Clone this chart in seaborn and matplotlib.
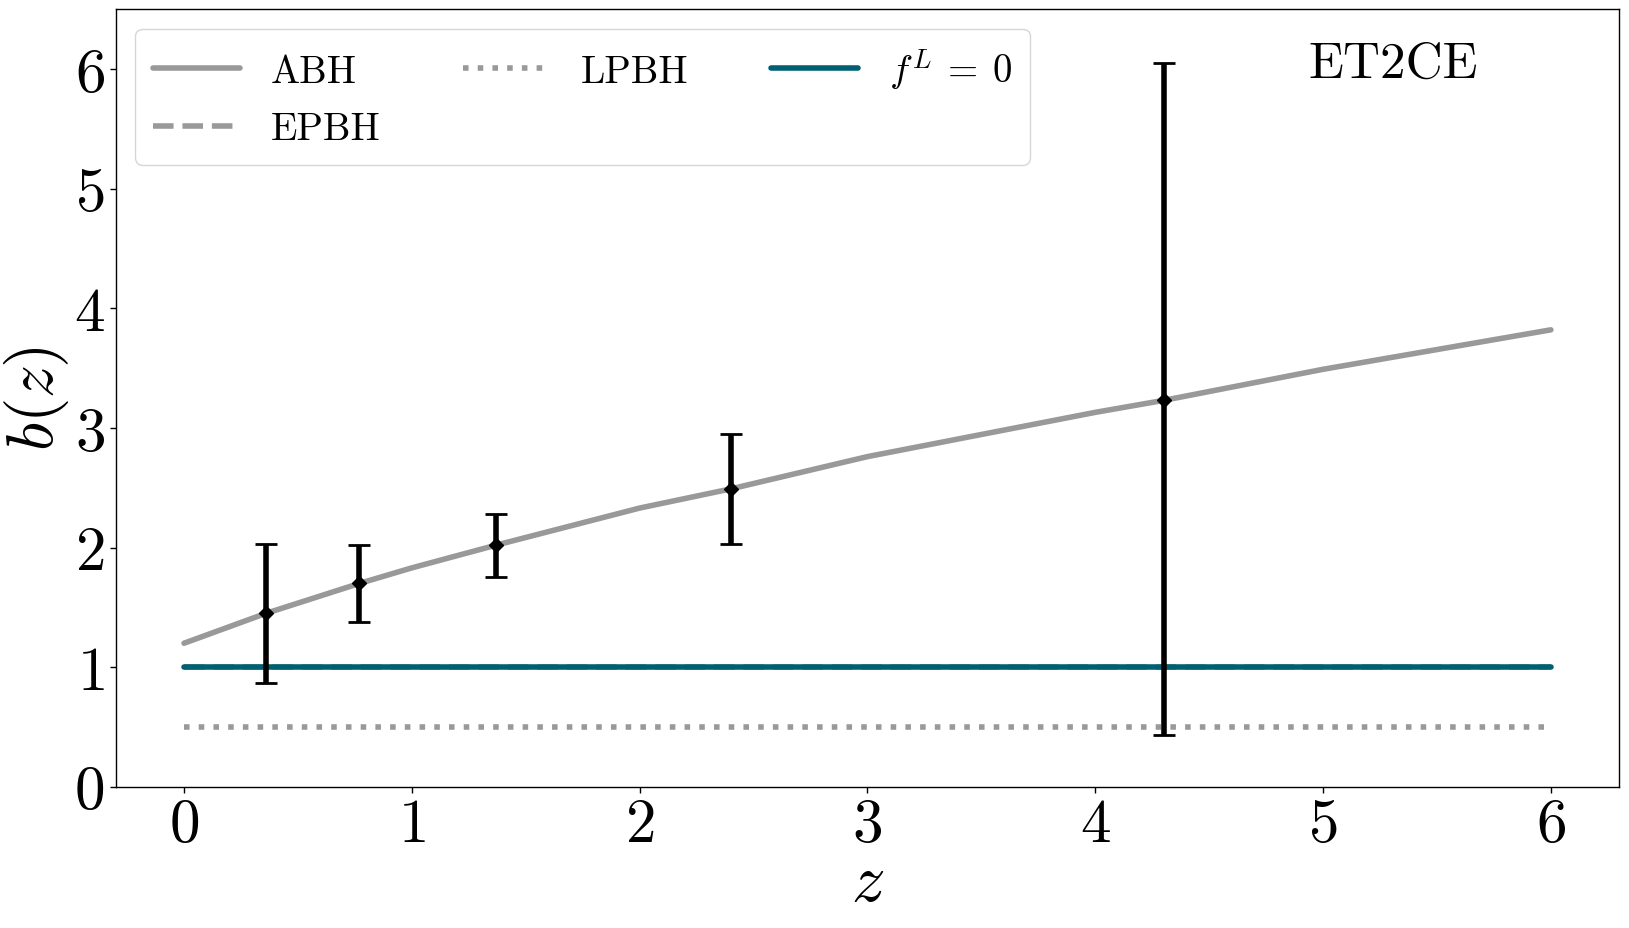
import matplotlib.pyplot as plt
import numpy as np
import pandas as pd
import seaborn as sns

# ABH bias curve
z_abh = [0.0, 0.36, 0.77, 1.0, 1.37, 2.0, 2.4, 3.0, 4.0, 4.3, 5.0, 6.0]
b_abh = [1.20, 1.45, 1.70, 1.83, 2.02, 2.33, 2.49, 2.76, 3.13, 3.23, 3.49, 3.82]

# flat models
z_flat = [0.0, 6.0]
b_epbh = [1.0, 1.0]
b_lpbh = [0.5, 0.5]
b_f0 = [1.0, 1.0]

# ET2CE binned measurements
z_bins = [0.36, 0.77, 1.37, 2.40, 4.30]
b_bins = [1.45, 1.70, 2.02, 2.49, 3.23]
b_lo = [0.87, 1.38, 1.75, 2.03, 0.43]
b_hi = [2.03, 2.02, 2.28, 2.95, 6.05]

sns.set_style("ticks")
plt.rcParams.update({
    'font.family': 'cmr10',
    'mathtext.fontset': 'cm',
    'axes.formatter.use_mathtext': True,
    'axes.unicode_minus': False,
    'text.color': 'black',
    'axes.labelcolor': 'black',
    'xtick.color': 'black',
    'ytick.color': 'black',
    'axes.edgecolor': 'black',
})

gray = '#999999'
teal = '#005f73'

fig, ax = plt.subplots(figsize=(16.29, 9.29), dpi=100)
fig.subplots_adjust(left=0.071, right=0.994, top=0.989, bottom=0.152)

abh = pd.DataFrame({"z": z_abh, "b": b_abh})
flat = pd.DataFrame({"z": z_flat, "epbh": b_epbh, "lpbh": b_lpbh, "f0": b_f0})

sns.lineplot(x="z", y="b", data=abh, ax=ax, color=gray, lw=4, label="ABH")
sns.lineplot(x="z", y="epbh", data=flat, ax=ax, color=gray, lw=4, ls="--", label="EPBH")
sns.lineplot(x="z", y="lpbh", data=flat, ax=ax, color=gray, lw=4, ls=":", label="LPBH")
sns.lineplot(x="z", y="f0", data=flat, ax=ax, color=teal, lw=4, label=r"$f^L\:=\:0$")

yerr = [np.array(b_bins) - np.array(b_lo), np.array(b_hi) - np.array(b_bins)]
ax.errorbar(z_bins, b_bins, yerr=yerr, fmt='D', color='black', ms=7,
            elinewidth=4, capsize=8, capthick=2, zorder=5)

ax.set_xlim(-0.3, 6.3)
ax.set_ylim(0, 6.5)
ax.set_xticks(range(0, 7))
ax.set_yticks(range(0, 7))
ax.tick_params(labelsize=44, length=4, width=1, pad=4)
for s in ax.spines.values():
    s.set_visible(True)
    s.set_linewidth(1)

ax.set_xlabel(r"$z$", fontsize=48, labelpad=0)
ax.set_ylabel(r"$b(z)$", fontsize=47, labelpad=2)

ax.text(0.85, 0.93, "ET2CE", transform=ax.transAxes, fontsize=37, ha='center', va='center')

ax.legend(loc="upper left", ncol=3, fontsize=28, handlelength=2.25,
          columnspacing=2.1, borderpad=0.45, labelspacing=0.55, frameon=True)

plt.savefig("out.png")
